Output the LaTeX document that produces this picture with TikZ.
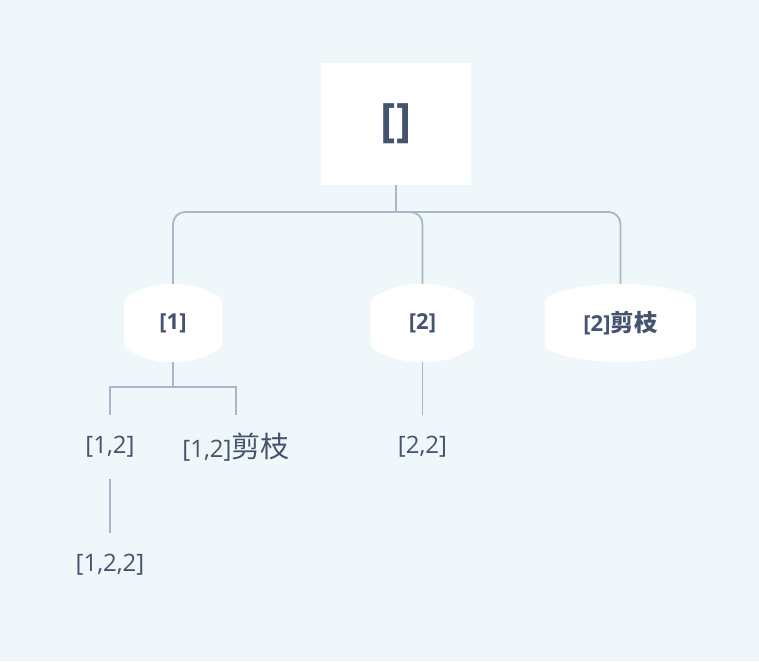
\documentclass[tikz,border=0pt]{standalone}
\usepackage{fontspec}
\setmainfont{Open Sans}
\newfontfamily\cjk{Noto Sans CJK SC}
\usetikzlibrary{calc}
\pgfdeclarelayer{bglayer}
\pgfdeclarelayer{shapes}
\pgfsetlayers{bglayer,shapes,main}
\definecolor{bg}{HTML}{EFF7FA}
\definecolor{txt}{HTML}{44546E}
\definecolor{ln}{HTML}{A9B8C8}
\tikzset{
  conn/.style={draw=ln, line width=1.8pt},
  rootbox/.style={fill=white, minimum width=150pt, minimum height=122pt, inner sep=0pt, text=txt, font=\fontsize{46}{52}\selectfont\bfseries},
  midbox/.style={minimum height=78pt, inner sep=0pt, text=txt, font=\fontsize{22}{26}\selectfont\bfseries},
  leaf/.style={minimum height=64pt, inner sep=0pt, text=txt, font=\fontsize{24}{28}\selectfont},
}
\newcommand{\barrelfill}[1]{%
  \fill[white] let \p1=(#1.north west), \p2=(#1.south east) in
    (\x1,\y1-20pt) .. controls (\x1,\y1-14pt) and (\x1+3pt,\y1-12pt) .. (\x1+9pt,\y1-10pt)
    .. controls ($(\x1,\y1)!0.3!(\x2,\y1)+(0,3.2pt)$) and ($(\x1,\y1)!0.7!(\x2,\y1)+(0,3.2pt)$) .. (\x2-9pt,\y1-10pt)
    .. controls (\x2-3pt,\y1-12pt) and (\x2,\y1-14pt) .. (\x2,\y1-20pt)
    -- (\x2,\y2+20pt)
    .. controls (\x2,\y2+14pt) and (\x2-3pt,\y2+12pt) .. (\x2-9pt,\y2+10pt)
    .. controls ($(\x1,\y2)!0.7!(\x2,\y2)-(0,3.2pt)$) and ($(\x1,\y2)!0.3!(\x2,\y2)-(0,3.2pt)$) .. (\x1+9pt,\y2+10pt)
    .. controls (\x1+3pt,\y2+12pt) and (\x1,\y2+14pt) .. (\x1,\y2+20pt) -- cycle;}
\begin{document}
\begin{tikzpicture}[x=1pt,y=-1pt]
\begin{pgfonlayer}{bglayer}
\fill[bg] (0,0) rectangle (759,661);
\end{pgfonlayer}
\useasboundingbox (0,0) rectangle (759,661);
\node[rootbox] (root) at (396,124) {[]};
\node[midbox, minimum width=98pt] (n1) at (173,323) {[1]};
\node[midbox, minimum width=103pt] (n2) at (422.5,323) {[2]};
\node[midbox, minimum width=151pt] (n3) at (620.5,323) {[2]{\cjk\fontsize{23.5}{26}\selectfont 剪枝}};
\begin{pgfonlayer}{shapes}
\barrelfill{n1}\barrelfill{n2}\barrelfill{n3}
\end{pgfonlayer}
\node[leaf] (a) at (110,447) {[1,2]};
\node[leaf] (b) at (236,447) {[1,2]{\cjk\fontsize{29}{32}\selectfont 剪枝}};
\node[leaf] (c) at (422.5,447) {[2,2]};
\node[leaf] (d) at (110,565) {[1,2,2]};
\coordinate (j1) at (396,212);
\coordinate (j2) at (173,387);
\draw[conn] (root.south) -- (j1);
\draw[conn, rounded corners=12pt] (j1) -| (n1.north);
\draw[conn, rounded corners=12pt] (j1) -| (n2.north);
\draw[conn, rounded corners=12pt] (j1) -| (n3.north);
\draw[conn] (n1.south) -- (j2);
\draw[conn] (j2) -| (a.north);
\draw[conn] (j2) -| (b.north);
\draw[conn] (n2.south) -- (c.north);
\draw[conn] (a.south) -- (d.north);
\end{tikzpicture}
\end{document}
